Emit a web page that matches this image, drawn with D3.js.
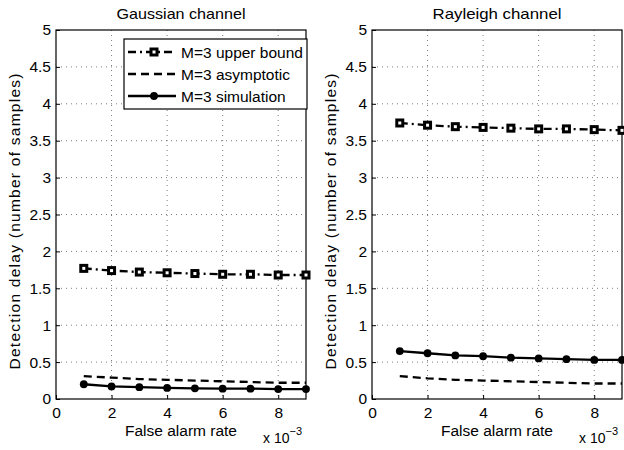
<!DOCTYPE html>
<html>
<head>
<meta charset="utf-8">
<script src="https://cdn.jsdelivr.net/npm/d3@7"></script>
<style>
  body { margin: 0; background: #fff; }
  svg text { font-family: "Liberation Sans", Arial, sans-serif; fill: #000; }
</style>
</head>
<body>
<div class="chart"></div>
<script>
// false alarm rate (x 10^-3)
const alarmRates = [1, 2, 3, 4, 5, 6, 7, 8, 9];
const xTicks = [0, 2, 4, 6, 8];
const yTicks = [0, 0.5, 1, 1.5, 2, 2.5, 3, 3.5, 4, 4.5, 5];

const gaussUpper = [1.77, 1.74, 1.72, 1.71, 1.70, 1.69, 1.69, 1.68, 1.68];
const gaussAsym  = [0.31, 0.29, 0.27, 0.26, 0.25, 0.24, 0.23, 0.22, 0.22];
const gaussSim   = [0.20, 0.17, 0.16, 0.15, 0.145, 0.14, 0.14, 0.135, 0.135];

const rayUpper = [3.74, 3.71, 3.69, 3.68, 3.67, 3.66, 3.66, 3.65, 3.64];
const rayAsym  = [0.31, 0.28, 0.26, 0.25, 0.24, 0.23, 0.22, 0.21, 0.21];
const raySim   = [0.65, 0.62, 0.59, 0.58, 0.56, 0.55, 0.54, 0.53, 0.53];

const titles = ['Gaussian channel', 'Rayleigh channel'];
const legendLabels = ['M=3 upper bound', 'M=3 asymptotic', 'M=3 simulation'];

const w = 624;
const h = 450;

const svg = d3.select('.chart')
              .append('svg')
              .attr('width', w)
              .attr('height', h);

const panels = [
  { left: 56, right: 306, title: titles[0], series: [gaussUpper, gaussAsym, gaussSim], legend: true },
  { left: 372, right: 622, title: titles[1], series: [rayUpper, rayAsym, raySim], legend: false }
];
const plotTop = 30;
const plotBottom = 399;

const styles = [
  { dash: '8,4,2,4', marker: 'square' },
  { dash: '8,5', marker: null },
  { dash: null, marker: 'circle' }
];

function drawMarker(g, type, x, y) {
  if (type === 'square') {
    g.append('rect')
     .attr('x', x - 3).attr('y', y - 3)
     .attr('width', 6).attr('height', 6)
     .attr('fill', '#fff')
     .attr('stroke', '#000')
     .attr('stroke-width', 3);
  } else if (type === 'circle') {
    g.append('circle')
     .attr('cx', x).attr('cy', y).attr('r', 3.9)
     .attr('fill', '#000');
  }
}

panels.forEach(p => {
  const xScale = d3.scaleLinear().domain([0, 9]).range([p.left, p.right]);
  const yScale = d3.scaleLinear().domain([0, 5]).range([plotBottom, plotTop]);
  const g = svg.append('g');

  // dotted grid
  g.selectAll('.gx').data(xTicks.slice(1)).enter().append('line')
   .attr('x1', d => xScale(d)).attr('x2', d => xScale(d))
   .attr('y1', plotTop).attr('y2', plotBottom)
   .attr('stroke', '#444').attr('stroke-width', 0.7)
   .attr('stroke-dasharray', '1,4');
  g.selectAll('.gy').data(yTicks.slice(1, -1)).enter().append('line')
   .attr('x1', p.left).attr('x2', p.right)
   .attr('y1', d => yScale(d)).attr('y2', d => yScale(d))
   .attr('stroke', '#444').attr('stroke-width', 0.7)
   .attr('stroke-dasharray', '1,4');

  // axes
  const xAxis = d3.axisBottom(xScale).tickValues(xTicks).tickSize(-4).tickPadding(8).tickFormat(d3.format('d'));
  const yAxis = d3.axisLeft(yScale).tickValues(yTicks).tickSize(-4).tickPadding(5).tickFormat(d => d);

  const gx = g.append('g')
              .attr('transform', `translate(0, ${plotBottom})`)
              .call(xAxis);
  const gy = g.append('g')
              .attr('transform', `translate(${p.left}, 0)`)
              .call(yAxis);
  [gx, gy].forEach(a => {
    a.select('.domain').remove();
    a.selectAll('text').style('font-size', '15.5px');
  });

  // frame
  g.append('rect')
   .attr('x', p.left).attr('y', plotTop)
   .attr('width', p.right - p.left).attr('height', plotBottom - plotTop)
   .attr('fill', 'none').attr('stroke', '#000').attr('stroke-width', 1.2);

  // series
  const line = d3.line()
                 .x((d, i) => xScale(alarmRates[i]))
                 .y(d => yScale(d));

  p.series.forEach((vals, k) => {
    const s = styles[k];
    g.append('path')
     .datum(vals)
     .attr('d', line)
     .attr('fill', 'none')
     .attr('stroke', '#000')
     .attr('stroke-width', 2.3)
     .attr('stroke-dasharray', s.dash);
    if (s.marker) {
      vals.forEach((v, i) => drawMarker(g, s.marker, xScale(alarmRates[i]), yScale(v)));
    }
  });

  // title
  svg.append('text')
     .attr('x', (p.left + p.right) / 2)
     .attr('y', 19)
     .attr('text-anchor', 'middle')
     .style('font-size', '15px')
     .attr('textLength', 129)
     .attr('lengthAdjust', 'spacingAndGlyphs')
     .text(p.title);

  // axis labels
  svg.append('text')
     .attr('x', (p.left + p.right) / 2)
     .attr('y', 436)
     .attr('text-anchor', 'middle')
     .style('font-size', '15.5px')
     .text('False alarm rate');

  const exp = svg.append('text')
                 .attr('x', p.right - 43)
                 .attr('y', 443)
                 .style('font-size', '14px');
  exp.append('tspan').text('x 10');
  exp.append('tspan').attr('dy', -8).style('font-size', '11px').text('−3');

  svg.append('text')
     .attr('transform', `translate(${p.left - 36}, ${(plotTop + plotBottom) / 2 + 7}) rotate(-90)`)
     .attr('text-anchor', 'middle')
     .style('font-size', '15.5px')
     .attr('textLength', 296)
     .attr('lengthAdjust', 'spacing')
     .text('Detection delay (number of samples)');

  // legend
  if (p.legend) {
    const lg = svg.append('g');
    lg.append('rect')
      .attr('x', 124).attr('y', 39)
      .attr('width', 183).attr('height', 70)
      .attr('fill', '#fff').attr('stroke', '#000').attr('stroke-width', 1.2);
    legendLabels.forEach((lab, k) => {
      const y = 52 + k * 22;
      const s = styles[k];
      lg.append('line')
        .attr('x1', 128).attr('x2', 176)
        .attr('y1', y).attr('y2', y)
        .attr('stroke', '#000').attr('stroke-width', 2.3)
        .attr('stroke-dasharray', s.dash);
      drawMarker(lg, s.marker, 154, y);
      lg.append('text')
        .attr('x', 181).attr('y', y + 6)
        .style('font-size', '15.5px')
        .text(lab);
    });
  }
});
</script>
</body>
</html>
